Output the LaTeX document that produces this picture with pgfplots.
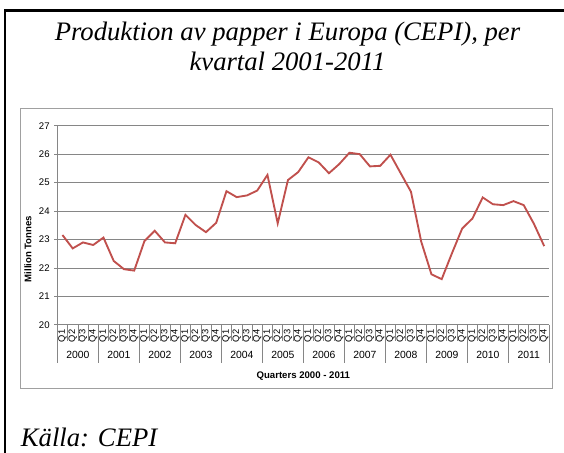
\documentclass[border=0pt]{standalone}
\usepackage{fontspec}
\setmainfont{Liberation Sans}
\newfontfamily\tnr{Liberation Serif}
\usepackage{pgfplots}
\pgfplotsset{compat=1.18}
\definecolor{linered}{HTML}{C0504D}
\definecolor{gridgray}{HTML}{868686}
\definecolor{framegray}{HTML}{A0A0A0}
\begin{document}
\begin{tikzpicture}
\useasboundingbox (0,0) rectangle (423pt,339.75pt);
\clip (0,0) rectangle (423pt,339.75pt);
% outer frame (right and bottom cut off)
\draw[line width=1.75pt] (3.9pt,-20pt) rectangle (460pt,331.9pt);
% chart frame
\draw[framegray, line width=0.75pt] (15.4pt,48pt) rectangle (414.5pt,258pt);
\node[anchor=base, font=\tnr\itshape\fontsize{20}{24}\selectfont] at (215.6pt,309pt) {Produktion av papper i Europa (CEPI), per};
\node[anchor=base, font=\tnr\itshape\fontsize{20}{24}\selectfont] at (215.6pt,286.5pt) {kvartal 2001-2011};
\node[anchor=base west, inner sep=0pt, font=\tnr\itshape\fontsize{20}{24}\selectfont] at (15.5pt,4.7pt) {Källa: CEPI};
\node[rotate=90, font=\bfseries\fontsize{7.2}{8}\selectfont] at (21pt,153pt) {Million Tonnes};

\begin{axis}[
    at={(43pt,96pt)}, anchor=south west,
    scale only axis,
    width=369pt, height=149.5pt,
    xmin=-0.5, xmax=47.5,
    ymin=20, ymax=27,
    ytick={20,21,22,23,24,25,26,27},
    xtick={0,...,47},
    xticklabels={Q1,Q2,Q3,Q4,Q1,Q2,Q3,Q4,Q1,Q2,Q3,Q4,Q1,Q2,Q3,Q4,Q1,Q2,Q3,Q4,Q1,Q2,Q3,Q4,
                 Q1,Q2,Q3,Q4,Q1,Q2,Q3,Q4,Q1,Q2,Q3,Q4,Q1,Q2,Q3,Q4,Q1,Q2,Q3,Q4,Q1,Q2,Q3,Q4},
    x tick label style={rotate=90, anchor=east, inner sep=1pt, font=\fontsize{7}{8}\selectfont},
    y tick label style={font=\fontsize{7.2}{8}\selectfont},
    /pgf/number format/assume math mode=true,
    xtick style={draw=none},
    ytick style={draw=gridgray, line width=0.75pt},
    tick align=outside,
    major tick length=2.25pt,
    axis x line*=bottom, axis y line*=left,
    axis line style={draw=gridgray, line width=0.75pt},
    ymajorgrids=true,
    grid style={draw=gridgray, line width=0.75pt},
    xlabel={Quarters 2000 - 2011},
    xlabel style={at={(axis description cs:0.5,0)}, anchor=center, yshift=-38.25pt,
                  font=\bfseries\fontsize{7.2}{8}\selectfont},
    clip=false,
]
\addplot[color=linered, line width=1.4pt] coordinates {
    (0,23.16)(1,22.69)(2,22.90)(3,22.81)
    (4,23.07)(5,22.25)(6,21.96)(7,21.91)
    (8,22.95)(9,23.31)(10,22.90)(11,22.87)
    (12,23.87)(13,23.51)(14,23.26)(15,23.59)
    (16,24.70)(17,24.49)(18,24.55)(19,24.72)
    (20,25.27)(21,23.57)(22,25.09)(23,25.37)
    (24,25.89)(25,25.71)(26,25.33)(27,25.65)
    (28,26.05)(29,26.00)(30,25.57)(31,25.59)
    (32,25.98)(33,25.33)(34,24.68)(35,22.93)
    (36,21.78)(37,21.61)(38,22.52)(39,23.39)
    (40,23.74)(41,24.48)(42,24.24)(43,24.21)
    (44,24.35)(45,24.21)(46,23.55)(47,22.77)
};
% category separators
\pgfplotsinvokeforeach{0,...,48}{
    \draw[gridgray, line width=0.5pt] (axis cs:{#1-0.5},20) -- ([yshift=-12pt]axis cs:{#1-0.5},20);
}
\pgfplotsinvokeforeach{0,...,12}{
    \draw[gridgray, line width=0.5pt] (axis cs:{4*#1-0.5},20) -- ([yshift=-28.5pt]axis cs:{4*#1-0.5},20);
}
\pgfplotsinvokeforeach{0,...,11}{
    \node[font=\fontsize{7.8}{9}\selectfont] at (axis cs:{4*#1+1.5},20) [yshift=-22.5pt] {\the\numexpr2000+#1\relax};
}
\end{axis}
\end{tikzpicture}
\end{document}
